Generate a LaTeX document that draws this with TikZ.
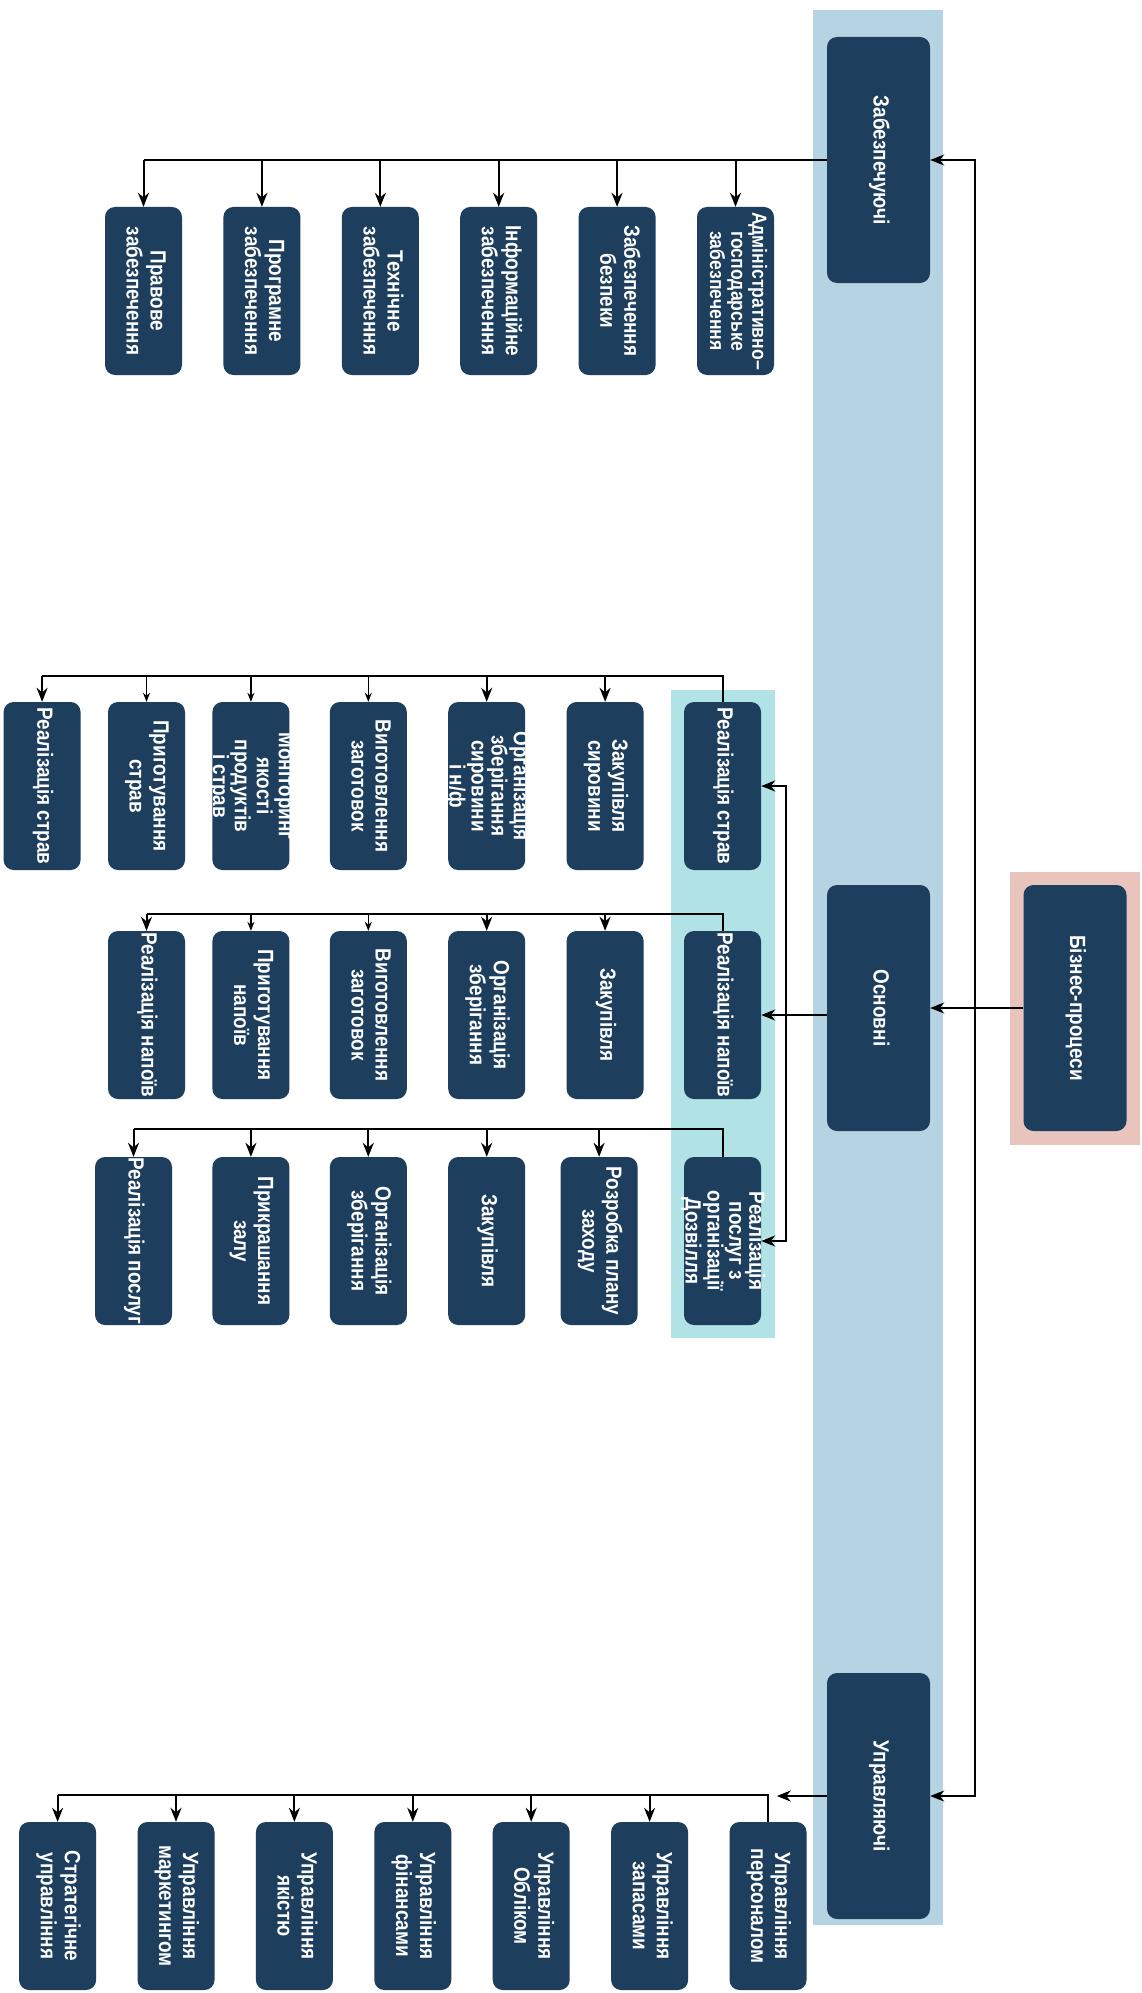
\documentclass[tikz,border=0pt]{standalone}
\usepackage{fontspec}
\setmainfont{Liberation Sans}[FakeStretch=0.86]
\usepackage{graphicx}
\usetikzlibrary{arrows.meta,positioning,calc}

\definecolor{navy}{HTML}{1D3E5D}
\definecolor{barblue}{HTML}{B5D4E3}
\definecolor{bandcyan}{HTML}{B0E2E6}
\definecolor{bandpink}{HTML}{E8C4BD}

% rotated multi-line label
\newcommand{\vtxt}[1]{\makebox[0pt]{\rotatebox{-90}{\begin{tabular}{@{}c@{}}#1\end{tabular}}}}

\begin{document}
\begin{tikzpicture}[x=1pt, y=-1pt, font=\bfseries\fontsize{22}{24}\selectfont,
  box/.style={fill=navy, text=white, rounded corners=10pt, minimum width=77pt, minimum height=168pt, inner sep=0pt, align=center},
  bigbox/.style={box, minimum width=103pt, minimum height=246pt},
  tightfont/.style={font=\bfseries\fontsize{22}{20}\selectfont},
  smallfont/.style={font=\bfseries\fontsize{20.5}{21}\selectfont},
  link/.style={line width=2pt},
  arr/.style={link, -{Stealth[length=14pt, width=11pt]}},
  arrthin/.style={line width=1.2pt, -{Stealth[length=9pt, width=7pt]}}]
\fill[white] (0,0) rectangle (1141,1993);
\useasboundingbox (0,0) rectangle (1141,1993);

% bands
\fill[barblue] (813,10) rectangle (943,1925);
\fill[bandcyan] (671,690) rectangle (775,1338);
\fill[bandpink] (1010,872) rectangle (1140,1145);

% main column
\node[bigbox] (zab) at (878.5,160) {\vtxt{Забезпечуючі}};
\node[bigbox] (osn) at (878.5,1008) {\vtxt{Основні}};
\node[bigbox] (upr) at (878.5,1796) {\vtxt{Управляючі}};
\node[bigbox] (biz) at (1075,1008) {\vtxt{Бізнес-процеси}};

% supporting
\node[box, smallfont] (adm) at (735.5,291) {\vtxt{Адміністративно–\\господарське\\забезпечення}};
\node[box, left=41pt of adm] (bez) {\vtxt{Забезпечення\\безпеки}};
\node[box, left=41pt of bez] (inf) {\vtxt{Інформаційне\\забезпечення}};
\node[box, left=41pt of inf] (teh) {\vtxt{Технічне\\забезпечення}};
\node[box, left=41pt of teh] (prog) {\vtxt{Програмне\\забезпечення}};
\node[box, left=41pt of prog] (prav) {\vtxt{Правове\\забезпечення}};

% dishes
\node[box] (rstr) at (722.5,786) {\vtxt{Реалізація страв}};
\node[box, left=40pt of rstr] (zaks) {\vtxt{Закупівля\\сировини}};
\node[box, tightfont, left=41pt of zaks] (orgs) {\vtxt{Організація\\зберігання\\сировини\\і н/ф}};
\node[box, left=41pt of orgs] (vyg1) {\vtxt{Виготовлення\\заготовок}};
\node[box, tightfont, left=40pt of vyg1] (mon) {\vtxt{Моніторинг\\якості\\продуктів\\і страв}};
\node[box, left=27pt of mon] (prs) {\vtxt{Приготування\\страв}};
\node[box, left=27pt of prs] (rls) {\vtxt{Реалізація страв}};

% drinks
\node[box] (rnap) at (722.5,1015) {\vtxt{Реалізація напоїв}};
\node[box, left=40pt of rnap] (zak2) {\vtxt{Закупівля}};
\node[box, left=41pt of zak2] (org2) {\vtxt{Організація\\зберігання}};
\node[box, left=41pt of org2] (vyg2) {\vtxt{Виготовлення\\заготовок}};
\node[box, left=40pt of vyg2] (prn) {\vtxt{Приготування\\напоїв}};
\node[box, left=27pt of prn] (rln) {\vtxt{Реалізація напоїв}};

% leisure
\node[box, tightfont] (rpos) at (722.5,1241) {\vtxt{Реалізація\\послуг з\\організації\\Дозвілля}};
\node[box, left=46pt of rpos] (plan) {\vtxt{Розробка плану\\заходу}};
\node[box, left=35pt of plan] (zak3) {\vtxt{Закупівля}};
\node[box, left=41pt of zak3] (org3) {\vtxt{Організація\\зберігання}};
\node[box, left=40pt of org3] (prz) {\vtxt{Прикрашання\\залу}};
\node[box, left=40pt of prz] (rlp) {\vtxt{Реалізація послуг}};

% management
\node[box] (per) at (768,1906) {\vtxt{Управління\\персоналом}};
\node[box, left=41pt of per] (zap) {\vtxt{Управління\\запасами}};
\node[box, left=41pt of zap] (obl) {\vtxt{Управління\\Обліком}};
\node[box, left=41pt of obl] (fin) {\vtxt{Управління\\фінансами}};
\node[box, left=41pt of fin] (yak) {\vtxt{Управління\\якістю}};
\node[box, left=41pt of yak] (mark) {\vtxt{Управління\\маркетингом}};
\node[box, left=41pt of mark] (strat) {\vtxt{Стратегічне\\управління}};

% connectors
\coordinate (spine) at (975,1008);
\coordinate (hub) at (786,1015);
\draw[arr] (biz) -- (osn);
\draw[arr] (spine) |- (zab);
\draw[arr] (spine) |- (upr);
\draw[arr] (osn.west |- rnap) -- (rnap);
\draw[arr] (hub) |- (rstr);
\draw[arr] (hub) |- (rpos);

\draw[link] (zab.west) -- (zab.west -| prav);
\foreach \n in {prav,prog,teh,inf,bez,adm} \draw[arr] (zab.west -| \n) -- (\n.north);

\draw[link] (rstr.north) -- ++(0,-26) coordinate (bus1) -- (bus1 -| rls);
\foreach \n in {zaks,orgs,rls} \draw[arr] (bus1 -| \n) -- (\n.north);
\foreach \n in {vyg1,mon,prs} \draw[arrthin] (bus1 -| \n) -- (\n.north);

\draw[link] (rnap.north) -- ++(0,-17) coordinate (bus2) -- (bus2 -| rln);
\foreach \n in {zak2,org2,rln} \draw[arr] (bus2 -| \n) -- (\n.north);
\foreach \n in {vyg2,prn} \draw[arrthin] (bus2 -| \n) -- (\n.north);

\draw[link] (rpos.north) -- ++(0,-28) coordinate (bus3) -- (bus3 -| rlp);
\foreach \n in {plan,zak3,org3,prz,rlp} \draw[arr] (bus3 -| \n) -- (\n.north);

\draw[arr] (upr.west) -- ++(-50,0);
\draw[link] (per.north) -- ++(0,-27) coordinate (bus4) -- (bus4 -| strat);
\foreach \n in {zap,obl,fin,yak,mark,strat} \draw[arr] (bus4 -| \n) -- (\n.north);
\end{tikzpicture}
\end{document}
